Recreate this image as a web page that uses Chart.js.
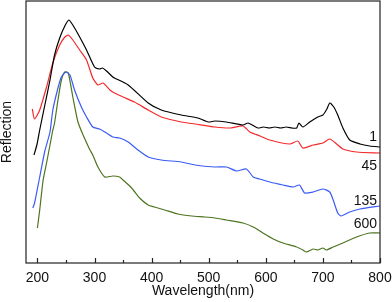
<!DOCTYPE html>
<html>
<head>
<meta charset="utf-8">
<script src="https://cdn.jsdelivr.net/npm/chart.js@4.4.0/dist/chart.umd.min.js"></script>
<style>
  html, body { margin: 0; padding: 0; background: #fff; }
</style>
</head>
<body>
<canvas id="reflChart" width="392" height="302"></canvas>
<script>
// wavelength (nm) and reflection (arb. units)
var wl1 = [194,199,204,213,222,230,239,248,255,262,274,286,300,309,314,321,332,335,359,394,417,452,481,499,511,531,560,569,586,596,606,616,626,636,646,654,658,665,677,691,700,707,712,719,726,735,747,765,782,800];
var refl1 = [108,118,133,158,183,208,225,237,243,238,226,213,196,194,195,192,186,185,178,160,153,148,145,141,142,141,138,140,135,136,135,136,135,136,135,135,140,136,141,146,148,154,160,156,148,135,123,119,117,116];

var wl45 = [191,195,204,216,227,239,248,254,262,274,286,297,306,315,327,335,350,370,394,417,452,476,511,537,560,572,590,607,642,656,665,683,700,712,724,735,759,800];
var refl45 = [154,144,153,176,200,218,226,228,223,213,203,185,178,180,173,170,166,161,153,146,141,139,136,135,137,131,127,123,119,122,115,118,120,124,119,114,111,110];

var wl135 = [192,195,204,213,222,227,236,242,250,257,265,277,286,297,309,321,332,344,359,376,394,417,452,476,511,531,549,566,578,589,607,630,648,659,668,683,700,712,718,726,732,747,765,800];
var refl135 = [55,60,86,112,131,153,175,186,191,188,173,156,146,136,134,130,126,125,121,113,106,103,101,98,96,96,92,94,86,84,81,78,76,78,70,71,74,71,63,50,47,51,54,57];

var wl600 = [200,204,210,216,222,227,230,236,242,248,254,262,271,280,292,297,306,318,332,344,350,365,379,394,405,423,446,470,493,511,531,560,578,595,613,630,654,665,671,683,691,700,706,718,735,759,782,800];
var refl600 = [35,53,83,100,118,133,140,163,183,191,190,166,141,128,113,108,96,86,87,86,83,75,65,58,56,53,49,47,46,45,43,40,36,30,24,20,16,13,11,14,13,15,13,16,20,26,30,30];

var seriesNames = ["1", "45", "135", "600"];
var xTicks = [200, 300, 400, 500, 600, 700, 800];
var xMinorTicks = [250, 350, 450, 550, 650, 750];

function pts(xs, ys) {
  return xs.map(function (x, i) { return { x: x, y: ys[i] }; });
}

function line(name, xs, ys, color) {
  return {
    label: name,
    data: pts(xs, ys),
    borderColor: color,
    borderWidth: 1.2,
    pointRadius: 0,
    tension: 0.2,
    fill: false,
  };
}

// frame, inward ticks and the curve labels
var decor = {
  id: "decor",
  afterDraw: function (chart) {
    var ctx = chart.ctx;
    var a = chart.chartArea;
    var xs = chart.scales.x;
    var ys = chart.scales.y;
    ctx.save();
    ctx.strokeStyle = "#222";
    ctx.lineWidth = 1.2;
    ctx.strokeRect(a.left, a.top, a.right - a.left, a.bottom - a.top);
    ctx.beginPath();
    xTicks.forEach(function (v) {
      var p = Math.round(xs.getPixelForValue(v)) + 0.5;
      ctx.moveTo(p, a.bottom);
      ctx.lineTo(p, a.bottom - 5);
    });
    xMinorTicks.forEach(function (v) {
      var p = Math.round(xs.getPixelForValue(v)) + 0.5;
      ctx.moveTo(p, a.bottom);
      ctx.lineTo(p, a.bottom - 3);
    });
    ctx.stroke();

    ctx.fillStyle = "#111";
    ctx.font = "14px Arial, 'Liberation Sans'";
    ctx.textAlign = "right";
    ctx.textBaseline = "middle";
    var labelY = [126, 97, 62, 39];
    seriesNames.forEach(function (n, i) {
      ctx.fillText(n, xs.getPixelForValue(795), ys.getPixelForValue(labelY[i]));
    });
    ctx.restore();
  },
};

var axisFont = { family: "Arial, 'Liberation Sans'", size: 14, lineHeight: 1 };

new Chart(document.getElementById("reflChart"), {
  type: "line",
  data: {
    datasets: [
      line("1", wl1, refl1, "#000000"),
      line("45", wl45, refl45, "#f42a2a"),
      line("135", wl135, refl135, "#3a5cf5"),
      line("600", wl600, refl600, "#4e7420"),
    ],
  },
  options: {
    responsive: false,
    animation: false,
    layout: { padding: { left: 0, right: 12, top: 1, bottom: 0 } },
    plugins: { legend: { display: false }, tooltip: { enabled: false } },
    scales: {
      x: {
        type: "linear",
        min: 180,
        max: 800,
        afterBuildTicks: function (scale) {
          scale.ticks = xTicks.map(function (v) { return { value: v }; });
        },
        afterFit: function (scale) {
          scale.height = 39;
          scale.paddingLeft = 0;
          scale.paddingRight = 0;
        },
        grid: { display: false, drawTicks: false },
        border: { display: false },
        ticks: { color: "#111", padding: 8, maxRotation: 0, font: axisFont },
        title: { display: true, text: "Wavelength(nm)", color: "#111", padding: { top: 1, bottom: 4 }, font: axisFont },
      },
      y: {
        min: 0,
        max: 262,
        afterFit: function (scale) {
          scale.width = 26;
        },
        grid: { display: false, drawTicks: false },
        border: { display: false },
        ticks: { display: false },
        title: { display: true, text: "Reflection", color: "#111", padding: { top: 0, bottom: 12 }, font: axisFont },
      },
    },
  },
  plugins: [decor],
});
</script>
</body>
</html>
